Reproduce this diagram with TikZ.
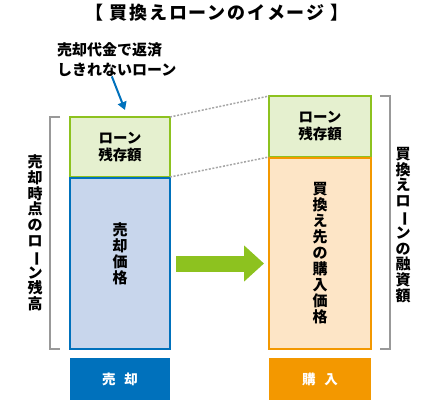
\documentclass[tikz,border=0pt]{standalone}
\usepackage{fontspec}
\setmainfont{Noto Sans CJK JP}
\usepackage{graphicx}
\usetikzlibrary{positioning,arrows.meta}
\definecolor{zangreen}{HTML}{8DC21F}
\definecolor{zanfill}{HTML}{E5F0CF}
\definecolor{baiblue}{HTML}{0071BC}
\definecolor{baifill}{HTML}{C8D6EC}
\definecolor{konorange}{HTML}{F39800}
\definecolor{konfill}{HTML}{FDE5C6}
\definecolor{brgray}{HTML}{999999}
\newcommand{\tatebou}{\rotatebox[origin=c]{-90}{ー}}
\begin{document}
\begin{tikzpicture}[x=1pt,y=-1pt,
  box/.style={draw,line width=2pt,outer sep=0pt,inner sep=0pt,font=\bfseries\fontsize{14.5}{17}\selectfont,align=center},
  zan/.style={box,draw=zangreen,fill=zanfill},
  tate/.style={font=\bfseries\fontsize{15}{15.8}\selectfont,align=center,inner sep=0pt},
  tag/.style={fill=#1,text=white,minimum width=100pt,minimum height=42pt,inner sep=0pt,outer sep=0pt,font=\bfseries\fontsize{13.5}{16}\selectfont},
  brace/.style={draw=brgray,line width=2pt},
  dots/.style={draw=gray!70,line width=1.5pt,dash pattern=on 2pt off 1.6pt}
]
\useasboundingbox (0,0) rectangle (440,400);

% title
\node[font=\bfseries\fontsize{18}{20}\selectfont] (title) at (217,13) {\addfontfeature{LetterSpace=10}【 買換えローンのイメージ 】};

% note above the left column
\node[anchor=north west,align=left,inner sep=0pt,font=\bfseries\fontsize{15}{20}\selectfont] (note) at (57,42) {売却代金で返済\\しきれないローン};

% selling side
\node[zan,minimum width=100pt,minimum height=60pt] (zanL) at (120,147) {ローン\\残存額};
\node[box,draw=baiblue,fill=baifill,minimum width=100pt,minimum height=171pt] (baiL) at (120,263.5) {};
\node[tate,font=\bfseries\fontsize{15}{16}\selectfont] (baiTxt) at (120,254) {売\\却\\価\\格};
\node[tag=baiblue] (baiTag) at (120,379) {売\hspace{9pt}却};

% buying side
\node[zan,minimum width=102pt,minimum height=61pt] (zanR) at (320,126.5) {ローン\\残存額};
\node[box,draw=konorange,fill=konfill,minimum width=102pt,minimum height=191pt,font=\bfseries\fontsize{15}{16}\selectfont] (konR) at (320,253.5) {買\\換\\え\\先\\の\\購\\入\\価\\格};
\node[tag=konorange,minimum width=102pt] (konTag) at (320,379) {購\hspace{9pt}入};

% dotted guides
\draw[dots] (zanL.north east) -- (zanR.north west);
\draw[dots] (zanL.south east) -- (zanR.south west);

% brackets
\draw[brace] ([xshift=-10pt]zanL.north west) -- ([xshift=-20pt]zanL.north west) -- ([xshift=-20pt]baiL.south west) -- ([xshift=-10pt]baiL.south west);
\draw[brace] ([xshift=9pt]zanR.north east) -- ([xshift=19pt]zanR.north east) -- ([xshift=19pt]konR.south east) -- ([xshift=9pt]konR.south east);
\node[tate] (zandaka) at (35,233) {売\\却\\時\\点\\の\\ロ\\\tatebou\\ン\\残\\高};
\node[tate] (yushi) at (403,225) {買\\換\\え\\ロ\\\tatebou\\ン\\の\\融\\資\\額};

% arrows
\draw[baiblue,line width=2pt,-{Triangle[length=8pt,width=9pt]}] ([xshift=-5pt]note.south) -- ([xshift=5pt,yshift=7pt]zanL.north);
\draw[zangreen,line width=16pt,-{Triangle[length=20pt,width=35pt]}] ([xshift=6pt]baiL.east) -- ([xshift=-5pt]baiL.east -| konR.west);
\end{tikzpicture}
\end{document}
